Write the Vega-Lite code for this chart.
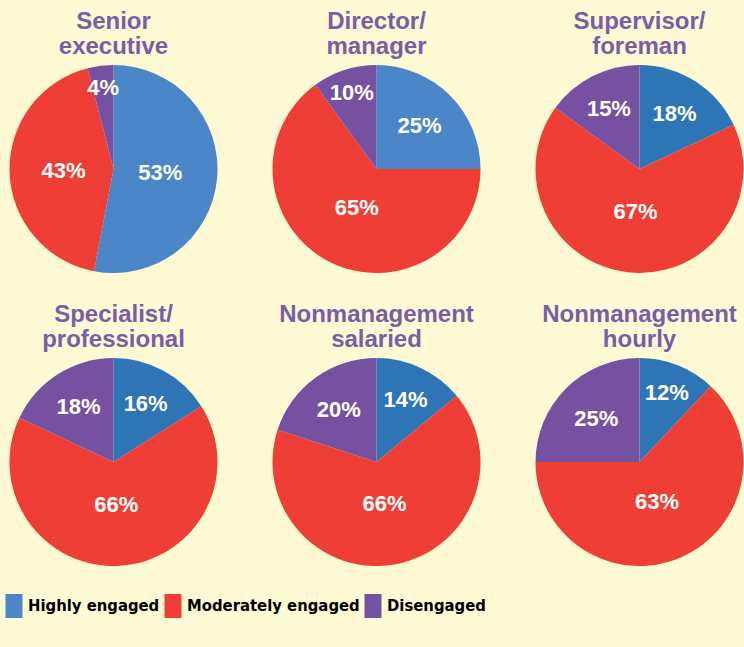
{
  "$schema": "https://vega.github.io/schema/vega-lite/v6.json",
  "background": "#FEFAD3",
  "padding": {"left": 1.5, "right": 0, "top": 10, "bottom": 29},
  "data": {
    "values": [
      {"group": "Senior executive", "status": "Highly engaged", "pct": 53},
      {"group": "Senior executive", "status": "Moderately engaged", "pct": 43},
      {"group": "Senior executive", "status": "Disengaged", "pct": 4},
      {"group": "Director/manager", "status": "Highly engaged", "pct": 25},
      {"group": "Director/manager", "status": "Moderately engaged", "pct": 65},
      {"group": "Director/manager", "status": "Disengaged", "pct": 10},
      {"group": "Supervisor/foreman", "status": "Highly engaged", "pct": 18},
      {"group": "Supervisor/foreman", "status": "Moderately engaged", "pct": 67},
      {"group": "Supervisor/foreman", "status": "Disengaged", "pct": 15},
      {"group": "Specialist/professional", "status": "Highly engaged", "pct": 16},
      {"group": "Specialist/professional", "status": "Moderately engaged", "pct": 66},
      {"group": "Specialist/professional", "status": "Disengaged", "pct": 18},
      {"group": "Nonmanagement salaried", "status": "Highly engaged", "pct": 14},
      {"group": "Nonmanagement salaried", "status": "Moderately engaged", "pct": 66},
      {"group": "Nonmanagement salaried", "status": "Disengaged", "pct": 20},
      {"group": "Nonmanagement hourly", "status": "Highly engaged", "pct": 12},
      {"group": "Nonmanagement hourly", "status": "Moderately engaged", "pct": 63},
      {"group": "Nonmanagement hourly", "status": "Disengaged", "pct": 25}
    ]
  },
  "transform": [
    {"calculate": "indexof(['Highly engaged','Moderately engaged','Disengaged'], datum.status)", "as": "k"},
    {"calculate": "datum.pct + '%'", "as": "label"}
  ],
  "facet": {
    "field": "group",
    "type": "nominal",
    "title": null,
    "sort": ["Senior executive", "Director/manager", "Supervisor/foreman", "Specialist/professional", "Nonmanagement salaried", "Nonmanagement hourly"],
    "header": {
      "labelExpr": "split(replace(datum.value, '/', '/ '), ' ')",
      "labelFont": "Liberation Sans",
      "labelFontWeight": "bold",
      "labelFontSize": 24,
      "labelLineHeight": 25,
      "labelColor": "#7B5DA7",
      "labelPadding": 6
    }
  },
  "columns": 3,
  "spacing": {"column": 55, "row": 30},
  "spec": {
    "width": 208,
    "height": 208,
    "layer": [
      {
        "mark": {"type": "arc", "outerRadius": 104, "strokeWidth": 0},
        "encoding": {
          "theta": {"field": "pct", "type": "quantitative", "stack": true},
          "order": {"field": "k", "type": "quantitative"},
          "color": {
            "condition": {
              "test": "datum.status === 'Highly engaged' && datum.group !== 'Senior executive' && datum.group !== 'Director/manager'",
              "value": "#2E75B6"
            },
            "field": "status",
            "type": "nominal",
            "scale": {
              "domain": ["Highly engaged", "Moderately engaged", "Disengaged"],
              "range": ["#4A86C8", "#EF3E36", "#7651A1"]
            },
            "legend": {
              "title": null,
              "orient": "none",
              "direction": "horizontal",
              "legendX": -7.5,
              "legendY": 529,
              "padding": 0,
              "symbolType": "M-0.708,-1H0.708V1H-0.708Z",
              "symbolSize": 576,
              "symbolStrokeWidth": 0,
              "labelFont": "DejaVu Sans Condensed",
              "labelFontWeight": "bold",
              "labelFontSize": 16.5,
              "labelColor": "#000000",
              "labelOffset": 2,
              "columnPadding": 1,
              "labelLimit": 300,
              "encode": {
                "symbols": {
                  "enter": {
                    "fill": {"signal": "datum.value === 'Moderately engaged' ? '#F26B52' : datum.value === 'Highly engaged' ? '#4A86C8' : '#7651A1'"}
                  },
                  "update": {
                    "fill": {"signal": "datum.value === 'Moderately engaged' ? '#F26B52' : datum.value === 'Highly engaged' ? '#4A86C8' : '#7651A1'"},
                    "opacity": {"value": 1}
                  }
                }
              }
            }
          }
        }
      },
      {
        "mark": {"type": "text", "font": "Liberation Sans", "fontWeight": "bold", "fontSize": 22, "fill": "#FFFFFF", "align": "center", "baseline": "middle"},
        "encoding": {
          "theta": {"field": "pct", "type": "quantitative", "stack": true},
          "order": {"field": "k", "type": "quantitative"},
          "detail": {"field": "status", "type": "nominal"},
          "radius": {
            "field": "pct",
            "type": "quantitative",
            "scale": {"type": "linear", "zero": false, "domain": [4, 10, 14, 25, 43, 53, 66], "range": [82, 80, 68, 61, 50, 47, 43]}
          },
          "text": {"field": "label", "type": "nominal"}
        }
      }
    ]
  },
  "config": {
    "view": {"stroke": null},
    "text": {"fill": "#FFFFFF"}
  }
}
